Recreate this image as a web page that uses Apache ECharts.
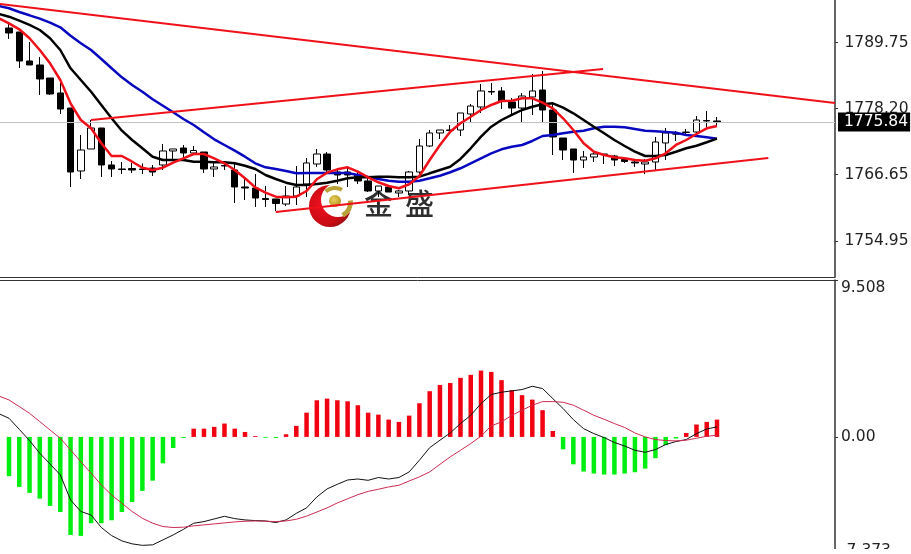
<!DOCTYPE html>
<html><head><meta charset="utf-8">
<style>html,body{margin:0;padding:0;background:#fff}#c{width:911px;height:554px}</style>
<script src="https://cdn.jsdelivr.net/npm/echarts@6/dist/echarts.min.js"></script>
</head><body><div id="c"></div>
<script>
const priceTicks=[1754.95,1766.65,1778.20,1789.75];
const macdTicks=[-7.373,0,9.508];
const lastPrice=1775.84;
// [open, close, low, high]
const candles=[
[1792.3,1791.43,1790.38,1793.35],[1791.6,1786.53,1785.3,1791.6],[1786.53,1785.83,1785.83,1789.85],[1785.83,1783.38,1780.58,1787.23],
[1783.55,1780.75,1780.58,1783.55],[1780.93,1778.13,1777.25,1782.68],[1778.3,1767.1,1764.48,1778.3],[1767.28,1770.95,1765.88,1773.58],
[1771.13,1774.8,1771.13,1776.2],[1774.8,1768.33,1766.23,1774.8],[1768.33,1767.63,1766.23,1769.03],[1767.63,1767.54,1766.75,1768.85],
[1767.71,1767.45,1766.93,1768.68],[1767.63,1767.54,1766.75,1768.59],[1767.8,1767.1,1766.4,1768.33],[1768.33,1770.78,1767.45,1772],
[1770.78,1771.13,1769.2,1771.13],[1771.3,1770.43,1769.55,1771.83],[1770.43,1770.86,1770.08,1771.65],[1770.6,1767.63,1766.93,1770.6],
[1767.63,1767.98,1766.23,1768.68],[1768.15,1768.24,1767.45,1768.85],[1767.45,1764.48,1761.68,1768.68],[1764.48,1764.3,1762.2,1766.23],
[1764.3,1762.55,1760.98,1766.75],[1762.46,1762.29,1760.98,1764.65],[1762.38,1761.59,1760.28,1762.38],[1761.5,1762.9,1761.15,1764.65],
[1762.9,1764.48,1761.33,1768.15],[1765,1768.68,1762.73,1769.55],[1768.5,1770.25,1767.98,1771.13],[1770.25,1767.45,1767.1,1770.6],
[1767.1,1766.58,1765,1767.8],[1767.1,1766.58,1764.48,1767.98],[1766.58,1765.53,1765,1767.1],[1765.53,1763.78,1763.6,1766.23],
[1763.78,1764.65,1762.73,1764.65],[1764.48,1763.6,1763.6,1764.83],[1763.43,1763.78,1762.73,1763.95],[1763.78,1767.1,1763.08,1767.28],
[1767.1,1771.65,1766.58,1772.88],[1771.65,1773.93,1771.48,1774.45],[1773.93,1774.45,1772.88,1774.45],[1774.45,1774.36,1773.93,1775.33],
[1774.45,1777.43,1773.4,1777.43],[1777.25,1778.65,1775.85,1779],[1778.48,1781.28,1777.43,1782.5],[1781.19,1781.1,1780.58,1782.68],
[1781.28,1779.53,1778.13,1781.98],[1779.35,1778.3,1776.9,1780.05],[1778.3,1780.4,1775.68,1780.93],[1780.23,1781.28,1777.08,1784.25],
[1781.45,1777.95,1775.85,1784.78],[1777.95,1773.23,1770.08,1779.35],[1773.05,1770.95,1769.2,1773.05],[1771.13,1769.2,1766.93,1771.13],
[1769.2,1769.73,1767.8,1770.78],[1769.73,1770.25,1768.85,1770.6],[1770.25,1770.16,1768.5,1770.25],[1769.9,1769.2,1768.15,1770.08],
[1769.29,1768.94,1768.68,1769.55],[1768.85,1768.68,1767.98,1769.38],[1768.5,1768.85,1766.75,1769.38],[1768.85,1772.35,1767.45,1773.23],
[1772.18,1773.93,1769.2,1774.8],[1773.75,1773.75,1772.53,1774.28],[1774.01,1774.1,1773.4,1774.63],[1774.1,1776.2,1773.75,1776.9],
[1776.11,1776.03,1774.98,1777.78],[1776.03,1775.85,1775.15,1776.73]];
// moving averages: the first value belongs to the bar left of the window
const maBlue=[1796.15,1795.75,1795.1,1794.52,1793.93,1793.23,1792.42,1790.95,1789.62,1788.45,1786.88,1785.25,1783.67,1782.33,1781.15,1779.82,1778.7,1777.55,1776.38,1775.33,1774.05,1772.82,1771.83,1770.83,1769.78,1768.62,1767.92,1767.63,1767.28,1766.87,1766.93,1766.93,1766.93,1766.93,1766.93,1766.58,1766.23,1765.88,1765.58,1765.4,1765.4,1765.58,1766,1766.45,1767.05,1767.75,1768.62,1769.5,1770.37,1771.07,1771.53,1771.83,1772.53,1773.4,1773.58,1773.87,1774.15,1774.33,1774.75,1775.03,1775.03,1774.92,1774.63,1774.33,1774.22,1774.1,1773.98,1773.58,1773.4,1773.17,1772.93];
const maBlack=[1794.75,1794.28,1793.58,1792.83,1791.95,1790.5,1788.45,1785.25,1783.2,1781.15,1778.83,1776.5,1774.33,1772.7,1771.25,1769.78,1769.2,1769.2,1769.2,1768.9,1768.9,1768.8,1768.8,1768.62,1768.2,1767.63,1766.58,1765.88,1765.23,1764.83,1764.83,1765,1765.23,1765.58,1766,1766.17,1766.17,1766.28,1766.28,1766.17,1766.17,1766.28,1766.87,1767.45,1768.03,1769.38,1771.25,1773.28,1775.03,1776.2,1777.08,1777.95,1778.53,1778.95,1779.12,1778.35,1777.37,1776.2,1775.03,1773.87,1772.7,1771.65,1770.65,1769.9,1769.9,1770.08,1770.65,1771.25,1771.7,1772.3,1772.93];
const maRed=[1794,1793.12,1792.07,1790.5,1788.45,1786.12,1783.2,1779.12,1776.2,1774.75,1772.12,1769.9,1769.9,1768.9,1767.85,1767.45,1767.85,1768.73,1769.5,1770.25,1770.25,1769.5,1768.62,1767.45,1766,1764.42,1763.48,1762.78,1762.67,1762.78,1763.78,1765.82,1766.98,1767.57,1767.92,1767.15,1766.17,1765.3,1764.65,1764.25,1764.95,1766.4,1769.2,1771.83,1774.15,1775.62,1776.78,1777.95,1778.83,1779.53,1779.58,1780,1780,1779.23,1778.25,1776.5,1774.45,1772.12,1770.65,1770.08,1769.67,1769.5,1769.2,1769.08,1769.5,1770.37,1771.83,1772.7,1773.75,1774.75,1775.15];
// trend lines: [bar position, price]
const trendUpperFall=[[-0.877,1796.5],[80.5,1779.18]];
const trendUpperRise=[[8,1776.2],[57.9,1785.13]];
const trendLowerRise=[[26,1760.1],[74,1769.55]];
const macdHist=[-2.38,-3.03,-3.39,-3.74,-4.18,-4.55,-5.94,-6,-5.23,-5.23,-5.05,-4.55,-3.94,-3.27,-2.65,-1.6,-0.67,-0.06,0.5,0.5,0.61,0.81,0.5,0.3,0.05,-0.05,-0.06,0.16,0.67,1.47,2.22,2.32,2.22,2.16,1.92,1.47,1.35,1.05,0.91,1.29,2.04,2.77,3.15,3.27,3.58,3.76,4.02,3.94,3.44,2.83,2.53,2.26,1.62,0.36,-0.75,-1.66,-2.1,-2.22,-2.28,-2.28,-2.22,-2.14,-1.92,-1.29,-0.5,-0.1,0.24,0.75,0.91,1.05];
// first value belongs to the bar left of the window
const macdLine=[1.41,1.13,0.46,-0.22,-0.99,-1.64,-2.3,-3.82,-4.52,-4.73,-5.49,-5.98,-6.3,-6.48,-6.57,-6.54,-6.24,-5.94,-5.6,-5.23,-5.13,-4.97,-4.81,-4.95,-5.03,-5.07,-5.09,-5.19,-5.03,-4.63,-4.3,-3.64,-3.15,-2.87,-2.61,-2.55,-2.63,-2.46,-2.55,-2.46,-2.12,-1.41,-0.65,-0.2,0.24,0.81,1.31,2.02,2.57,2.71,2.79,2.87,3.07,2.93,2.32,1.72,1.05,0.5,0.2,-0.04,-0.34,-0.55,-0.81,-0.93,-0.77,-0.46,-0.28,-0.16,0.2,0.48,0.61];
const signalLine=[2.48,2.24,1.84,1.43,0.93,0.42,-0.08,-0.79,-1.5,-2.2,-2.91,-3.52,-4.02,-4.52,-4.93,-5.23,-5.43,-5.49,-5.47,-5.39,-5.33,-5.27,-5.21,-5.15,-5.11,-5.09,-5.11,-5.13,-5.09,-4.99,-4.8,-4.55,-4.3,-4,-3.75,-3.5,-3.3,-3.17,-3.03,-2.93,-2.67,-2.42,-2.12,-1.66,-1.21,-0.81,-0.4,0.04,0.67,0.91,1.31,1.62,1.92,2.14,2.14,2.1,1.92,1.62,1.31,1.07,0.81,0.57,0.24,0,-0.16,-0.22,-0.24,-0.2,-0.08,0.04,0.1];

const font='"DejaVu Sans"';
const AX='#333';
const XMIN=-0.877, XMAX=80.5;
const withBar=a=>a.map((v,k)=>[k-1,v]);
const line=(data,color,width,xy)=>({type:'line',xAxisIndex:xy,yAxisIndex:xy,data,showSymbol:false,symbol:'none',silent:true,
  lineStyle:{color,width},z:5});
const chart=echarts.init(document.getElementById('c'),null,{renderer:'canvas'});
chart.setOption({
 animation:false,backgroundColor:'#fff',
 grid:[{left:0,top:0,width:835,height:277,outerBoundsMode:'none'},{left:0,top:280,width:835,height:278.6,outerBoundsMode:'none'}],
 xAxis:[
  {type:'value',gridIndex:0,min:XMIN,max:XMAX,position:'bottom',splitLine:{show:false},axisLabel:{show:false},axisTick:{show:false},axisLine:{show:true,onZero:false,lineStyle:{color:AX,width:1}}},
  {type:'value',gridIndex:1,min:XMIN,max:XMAX,position:'top',splitLine:{show:false},axisLabel:{show:false},axisTick:{show:false},axisLine:{show:true,onZero:false,lineStyle:{color:AX,width:1}}}
 ],
 yAxis:[
  {type:'value',gridIndex:0,position:'right',min:1748.725,max:1797.2,splitLine:{show:false},
   axisLine:{show:true,onZero:false,lineStyle:{color:AX,width:1.5}},
   axisTick:{show:true,length:3,customValues:priceTicks,lineStyle:{color:AX}},
   axisLabel:{show:true,margin:9.5,padding:[2,0,0,0],color:'#222',fontFamily:font,fontSize:15.5,customValues:priceTicks,formatter:v=>v.toFixed(2)}},
  {type:'value',gridIndex:1,position:'right',min:-7.373,max:9.508,splitLine:{show:false},
   axisLine:{show:true,onZero:false,lineStyle:{color:AX,width:1.5}},
   axisTick:{show:true,length:3,customValues:macdTicks,lineStyle:{color:AX}},
   axisLabel:{show:true,margin:6,color:'#222',fontFamily:font,fontSize:15.5,customValues:macdTicks,verticalAlignMaxLabel:'top',verticalAlignMinLabel:'bottom',
     formatter:v=>v===0?'0.00':String(v)}}
 ],
 graphic:[
  {type:'circle',z:0,shape:{cx:330,cy:206,r:21},style:{fill:new echarts.graphic.RadialGradient(0.35,0.45,0.7,[{offset:0,color:'#f01020'},{offset:0.7,color:'#c80c14'},{offset:1,color:'#8c0a10'}])}},
  {type:'circle',z:0,shape:{cx:338,cy:200,r:17},style:{fill:'#fff'}},
  {type:'sector',z:0,shape:{cx:335,cy:202,r:16,r0:12,startAngle:-2.3,endAngle:-1.05},style:{fill:'#b8a238'}},
  {type:'sector',z:0,shape:{cx:335,cy:202,r:18,r0:13,startAngle:-0.1,endAngle:1.05},style:{fill:'#b8a238'}},
  {type:'circle',z:0,shape:{cx:335,cy:201,r:6},style:{fill:new echarts.graphic.RadialGradient(0.4,0.4,0.6,[{offset:0,color:'#e8d060'},{offset:1,color:'#b89820'}])}},
  {type:'text',z:0,x:364,y:189,style:{text:'金',fill:'#2e2e2e',font:'500 29px "Noto Sans CJK SC"'}},
  {type:'text',z:0,x:405,y:189,style:{text:'盛',fill:'#2e2e2e',font:'500 29px "Noto Sans CJK SC"'}},
  {type:'rect',z:100,shape:{x:0,y:549,width:911,height:6},style:{fill:'#fff'}}
 ],
 series:[
  {type:'candlestick',xAxisIndex:0,yAxisIndex:0,data:candles.map((c,i)=>[i,...c]),encode:{x:0,y:[1,2,3,4]},barWidth:7,silent:true,z:2,
   itemStyle:{color:'#fff',color0:'#000',borderColor:'#000',borderColor0:'#000',borderWidth:1},
   markLine:{silent:true,symbol:'none',animation:false,precision:2,lineStyle:{color:'#c4c4c4',width:1,type:'solid'},
    label:{show:true,position:'end',distance:3,formatter:()=>lastPrice.toFixed(2),color:'#fff',backgroundColor:'#000',padding:[2,2,1,6],fontFamily:font,fontSize:15.5},
    data:[{yAxis:lastPrice}]}},
  line(withBar(maBlue),'#0808c0',2.5,0),
  line(withBar(maBlack),'#000',2.5,0),
  line(withBar(maRed),'#f0101a',2.5,0),
  line(trendUpperFall,'#f0101a',2.2,0),
  line(trendUpperRise,'#f0101a',2.2,0),
  line(trendLowerRise,'#f0101a',2.2,0),
  {type:'bar',xAxisIndex:1,yAxisIndex:1,data:macdHist.map((v,i)=>[i,v]),barWidth:4.5,silent:true,z:2,
   itemStyle:{color:p=>p.value[1]>=0?'#f00010':'#00ee10'}},
  line(withBar(macdLine),'#111',1,1),
  line(withBar(signalLine),'#cc2a50',1,1)
 ]
});
</script></body></html>
